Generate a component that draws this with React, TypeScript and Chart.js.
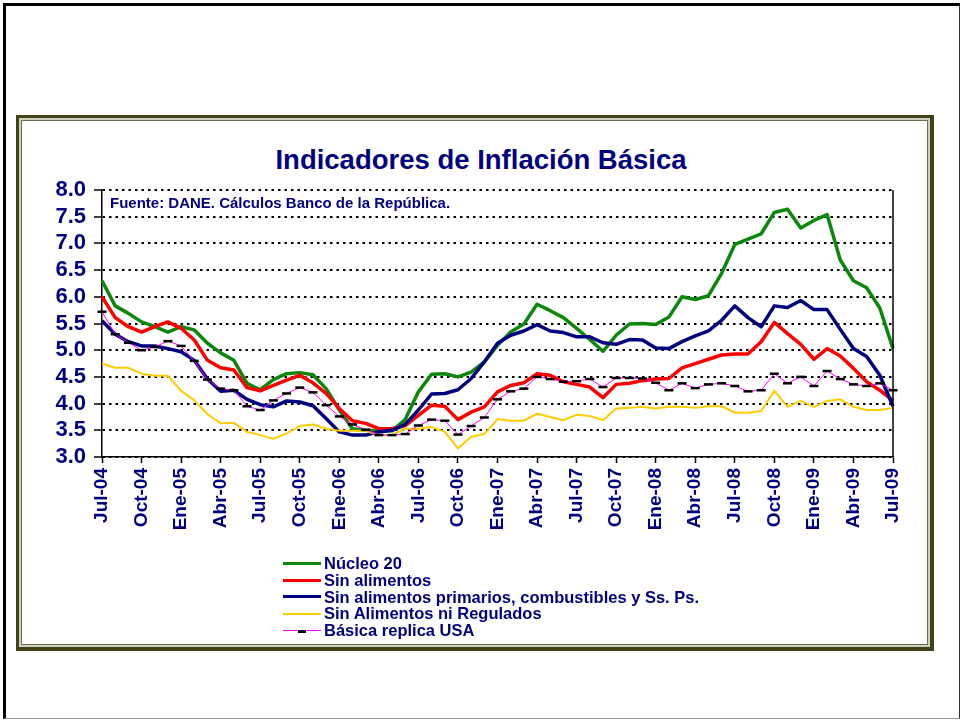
import React, { useEffect, useRef } from "react";
import { Chart, registerables } from "chart.js";

Chart.register(...registerables);

const months = [
  "Jul-04", "Ago-04", "Sep-04", "Oct-04", "Nov-04", "Dic-04",
  "Ene-05", "Feb-05", "Mar-05", "Abr-05", "May-05", "Jun-05", "Jul-05", "Ago-05", "Sep-05", "Oct-05", "Nov-05", "Dic-05",
  "Ene-06", "Feb-06", "Mar-06", "Abr-06", "May-06", "Jun-06", "Jul-06", "Ago-06", "Sep-06", "Oct-06", "Nov-06", "Dic-06",
  "Ene-07", "Feb-07", "Mar-07", "Abr-07", "May-07", "Jun-07", "Jul-07", "Ago-07", "Sep-07", "Oct-07", "Nov-07", "Dic-07",
  "Ene-08", "Feb-08", "Mar-08", "Abr-08", "May-08", "Jun-08", "Jul-08", "Ago-08", "Sep-08", "Oct-08", "Nov-08", "Dic-08",
  "Ene-09", "Feb-09", "Mar-09", "Abr-09", "May-09", "Jun-09", "Jul-09",
];

const tickLabels = [
  "Jul-04", "Oct-04", "Ene-05", "Abr-05", "Jul-05", "Oct-05", "Ene-06", "Abr-06", "Jul-06", "Oct-06",
  "Ene-07", "Abr-07", "Jul-07", "Oct-07", "Ene-08", "Abr-08", "Jul-08", "Oct-08", "Ene-09", "Abr-09", "Jul-09",
];

const yTicks = [3.0, 3.5, 4.0, 4.5, 5.0, 5.5, 6.0, 6.5, 7.0, 7.5, 8.0];

const nucleo20 = [
  6.30, 5.83, 5.69, 5.53, 5.44, 5.34, 5.44, 5.38, 5.13, 4.95, 4.81, 4.38, 4.26, 4.45, 4.56, 4.58, 4.54, 4.28, 3.88, 3.53, 3.50, 3.49,
  3.49, 3.70, 4.22, 4.55, 4.56, 4.50, 4.59, 4.78, 5.09, 5.34, 5.49, 5.86, 5.74, 5.61, 5.41, 5.20, 4.98, 5.28, 5.49, 5.50, 5.48,
  5.62, 6.00, 5.95, 6.02, 6.44, 6.98, 7.08, 7.18, 7.58, 7.64, 7.29, 7.43, 7.54, 6.69, 6.30, 6.17, 5.79, 5.03,
];

const sinAlimentos = [
  6.00, 5.61, 5.44, 5.34, 5.44, 5.53, 5.41, 5.19, 4.81, 4.67, 4.63, 4.30, 4.24, 4.34, 4.44, 4.53, 4.39, 4.19, 3.91, 3.68, 3.63, 3.53,
  3.53, 3.59, 3.78, 3.97, 3.95, 3.70, 3.84, 3.94, 4.22, 4.34, 4.39, 4.56, 4.53, 4.41, 4.36, 4.31, 4.11, 4.36, 4.38, 4.43, 4.46,
  4.47, 4.67, 4.75, 4.83, 4.91, 4.93, 4.93, 5.16, 5.52, 5.31, 5.11, 4.83, 5.03, 4.89, 4.66, 4.41, 4.25, 4.06,
];

const sinPrimarios = [
  5.55, 5.30, 5.16, 5.08, 5.08, 5.03, 4.97, 4.81, 4.46, 4.23, 4.25, 4.08, 3.98, 3.94, 4.05, 4.03, 3.96, 3.72, 3.47, 3.41, 3.41, 3.47,
  3.50, 3.61, 3.88, 4.18, 4.19, 4.26, 4.47, 4.78, 5.13, 5.28, 5.36, 5.48, 5.36, 5.33, 5.25, 5.25, 5.14, 5.11, 5.20, 5.19, 5.04,
  5.03, 5.16, 5.27, 5.36, 5.56, 5.83, 5.61, 5.44, 5.83, 5.80, 5.93, 5.76, 5.76, 5.39, 5.03, 4.88, 4.53, 3.95,
];

const sinRegulados = [
  4.75, 4.67, 4.67, 4.56, 4.52, 4.52, 4.24, 4.06, 3.80, 3.63, 3.64, 3.47, 3.41, 3.34, 3.44, 3.58, 3.61, 3.53, 3.49, 3.49, 3.49, 3.41,
  3.41, 3.53, 3.53, 3.56, 3.47, 3.16, 3.38, 3.43, 3.71, 3.68, 3.68, 3.81, 3.75, 3.69, 3.79, 3.77, 3.69, 3.91, 3.92, 3.94, 3.91,
  3.94, 3.94, 3.92, 3.95, 3.95, 3.83, 3.83, 3.86, 4.24, 3.94, 4.05, 3.94, 4.05, 4.08, 3.94, 3.88, 3.88, 3.92,
];

const basicaUSA = [
  5.72, 5.30, 5.14, 5.00, 5.06, 5.17, 5.08, 4.80, 4.45, 4.28, 4.25, 3.95, 3.88, 4.06, 4.19, 4.30, 4.21, 3.97, 3.76, 3.61, 3.51, 3.41,
  3.41, 3.43, 3.59, 3.70, 3.68, 3.42, 3.58, 3.74, 4.08, 4.23, 4.28, 4.50, 4.46, 4.41, 4.42, 4.46, 4.31, 4.48, 4.48, 4.47, 4.39,
  4.25, 4.38, 4.29, 4.36, 4.38, 4.33, 4.23, 4.25, 4.56, 4.38, 4.50, 4.33, 4.61, 4.46, 4.36, 4.33, 4.38, 4.25,
];

const seriesNames = [
  "Núcleo 20",
  "Sin alimentos",
  "Sin alimentos primarios, combustibles y Ss. Ps.",
  "Sin Alimentos ni Regulados",
  "Básica replica USA",
];
const seriesColors = ["#0b870b", "#ff0000", "#000080", "#ffcc00", "#ff00ff"];
const seriesWidths = [3.5, 3.5, 3.5, 2, 1];

const NAVY = "#000080";
const FONT = 'Arial, "Liberation Sans", Helvetica, sans-serif';

export default function App() {
  const canvasRef = useRef<HTMLCanvasElement | null>(null);

  useEffect(() => {
    const canvas = canvasRef.current;
    if (!canvas) return;
    const values = [nucleo20, sinAlimentos, sinPrimarios, sinRegulados, basicaUSA];
    const rightBorder = {
      id: "rightBorder",
      afterDraw(chart: any) {
        const { ctx, chartArea } = chart;
        ctx.save();
        ctx.strokeStyle = "#000";
        ctx.lineWidth = 1.5;
        ctx.beginPath();
        ctx.moveTo(chartArea.right, chartArea.top);
        ctx.lineTo(chartArea.right, chartArea.bottom);
        ctx.stroke();
        ctx.restore();
      },
    };
    const chart = new Chart(canvas, {
      type: "line",
      data: {
        labels: months,
        datasets: values.map((v, i) => ({
          label: seriesNames[i],
          data: v,
          borderColor: seriesColors[i],
          backgroundColor: seriesColors[i],
          borderWidth: seriesWidths[i],
          tension: 0,
          fill: false,
          clip: false as any,
          order: 5 - i,
          pointRadius: i === 4 ? 4.5 : 0,
          pointHoverRadius: i === 4 ? 4.5 : 0,
          pointStyle: "line",
          pointBorderColor: "#000",
          pointBorderWidth: 2.5,
          borderJoinStyle: "round" as any,
        })),
      },
      options: {
        animation: false,
        responsive: false,
        devicePixelRatio: 1,
        events: [],
        layout: { padding: { top: 68, right: 35, left: 0, bottom: 0 } },
        plugins: {
          legend: { display: false },
          title: { display: false },
          tooltip: { enabled: false },
        },
        scales: {
          x: {
            type: "category",
            offset: false,
            afterFit(scale: any) {
              scale.height = 185;
            },
            grid: {
              display: true,
              drawOnChartArea: false,
              drawTicks: true,
              tickLength: 6,
              tickWidth: 1.5,
              tickColor: (ctx: any) => (ctx.index % 3 === 0 ? "#000" : "rgba(0,0,0,0)"),
            },
            border: { display: true, color: "#000", width: 1.5 },
            ticks: {
              autoSkip: false,
              maxRotation: 90,
              minRotation: 90,
              padding: 5,
              color: NAVY,
              font: { family: FONT, size: 19, weight: "bold" },
              callback: (_v: any, idx: number) => (idx % 3 === 0 ? tickLabels[idx / 3] : ""),
            },
          },
          y: {
            min: 3,
            max: 8,
            afterFit(scale: any) {
              scale.width = 80;
            },
            afterBuildTicks(scale: any) {
              scale.ticks = yTicks.map((v) => ({ value: v }));
            },
            grid: {
              color: "#000",
              lineWidth: 2,
              tickLength: 8,
              tickWidth: 1.5,
              tickColor: "#000",
            },
            border: { display: true, color: "#000", width: 1.5, dash: [2.5, 4] },
            ticks: {
              autoSkip: false,
              padding: 8,
              color: NAVY,
              font: { family: FONT, size: 22, weight: "bold" },
              callback: (v: any) => Number(v).toFixed(1),
            },
          },
        },
      },
      plugins: [rightBorder],
    } as any);
    return () => chart.destroy();
  }, []);

  const legendTop = 555;
  const rowH = 16.8;

  return (
    <div style={{ position: "fixed", left: 0, top: 0, width: 961, height: 721, background: "#fff", overflow: "hidden" }}>
      <div
        style={{
          position: "absolute",
          left: 3,
          top: 3,
          width: 957,
          height: 716,
          boxSizing: "border-box",
          borderLeft: "3px solid #000",
          borderTop: "3px solid #000",
          borderRight: "1px solid #333",
          borderBottom: "1px solid #999",
        }}
      />
      <div
        style={{
          position: "absolute",
          left: 16,
          top: 115,
          width: 918,
          height: 536,
          boxSizing: "border-box",
          borderTop: "3px solid #43431a",
          borderLeft: "3px solid #43431a",
          borderRight: "4px solid #43431a",
          borderBottom: "4px solid #43431a",
          boxShadow: "inset 0 0 0 2px #cfcfc0, inset 0 0 0 3px #6e6e50",
        }}
      />
      <div
        style={{
          position: "absolute",
          left: 0,
          top: 146,
          width: 962,
          textAlign: "center",
          fontFamily: FONT,
          fontWeight: "bold",
          fontSize: 27.5,
          lineHeight: "27px",
          color: NAVY,
          whiteSpace: "nowrap",
        }}
      >
        Indicadores de Inflación Básica
      </div>
      <canvas
        ref={canvasRef}
        width={906}
        height={520}
        style={{ position: "absolute", left: 22, top: 122, width: 906, height: 520 }}
      />
      <div
        style={{
          position: "absolute",
          left: 110,
          top: 195,
          fontFamily: FONT,
          fontWeight: "bold",
          fontSize: 15,
          lineHeight: "15px",
          color: NAVY,
          whiteSpace: "nowrap",
        }}
      >
        Fuente: DANE. Cálculos Banco de la República.
      </div>
      {seriesNames.map((name, i) => (
        <div
          key={name}
          style={{
            position: "absolute",
            left: 283,
            top: legendTop + i * rowH,
            height: 17,
            display: "flex",
            alignItems: "center",
            fontFamily: FONT,
            fontWeight: "bold",
            fontSize: 16.5,
            lineHeight: "17px",
            color: NAVY,
            whiteSpace: "nowrap",
          }}
        >
          <div style={{ position: "relative", width: 38, height: 8, marginRight: 3 }}>
            <div
              style={{
                position: "absolute",
                left: 0,
                top: 4 - seriesWidths[i] / 2,
                width: 38,
                height: Math.max(1, seriesWidths[i] === 3.5 ? 3 : seriesWidths[i]),
                background: seriesColors[i],
              }}
            />
            {i === 4 && (
              <div style={{ position: "absolute", left: 15, top: 3, width: 8, height: 3, background: "#000" }} />
            )}
          </div>
          <span>{name}</span>
        </div>
      ))}
    </div>
  );
}
